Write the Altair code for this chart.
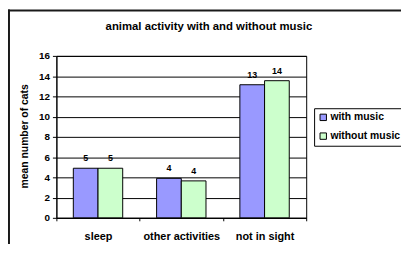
import altair as alt
import pandas as pd

categories = ["sleep", "other activities", "not in sight"]
series = ["with music", "without music"]
with_music = [4.9, 3.9, 13.15]
without_music = [4.9, 3.65, 13.55]
colors = ["#9999FF", "#CCFFCC"]

rows = []
for i, c in enumerate(categories):
    rows.append({"category": c, "series": series[0], "value": with_music[i]})
    rows.append({"category": c, "series": series[1], "value": without_music[i]})
df = pd.DataFrame(rows)

FONT = "Liberation Sans"

base = alt.Chart(df).encode(
    x=alt.X(
        "category:N",
        sort=categories,
        scale=alt.Scale(paddingInner=0, paddingOuter=0),
        axis=alt.Axis(
            title=None,
            labelAngle=0,
            labelFont=FONT,
            labelFontSize=11,
            labelFontWeight="bold",
            labelColor="black",
            labelPadding=10,
            tickBand="extent",
            tickSize=3,
            tickColor="black",
            domainColor="black",
            grid=False,
        ),
    ),
    xOffset=alt.XOffset(
        "series:N", sort=series, scale=alt.Scale(paddingInner=0, paddingOuter=0.686)
    ),
    y=alt.Y(
        "value:Q",
        scale=alt.Scale(domain=[0, 16], nice=False),
        axis=alt.Axis(
            title="mean number of cats",
            values=list(range(0, 17, 2)),
            titleFont=FONT,
            titleFontSize=10.5,
            titleFontWeight="bold",
            titleColor="black",
            titleX=-32,
            titleY=81,
            titleAngle=-90,
            titleAlign="center",
            titleBaseline="middle",
            labelFont=FONT,
            labelFontSize=10,
            labelFontWeight="bold",
            labelColor="black",
            labelPadding=3,
            tickSize=4,
            tickColor="black",
            domainColor="black",
            grid=True,
            gridColor="black",
            gridOpacity=1,
        ),
    ),
)

bars = base.mark_bar(stroke="black", strokeWidth=1).encode(
    color=alt.Color(
        "series:N",
        sort=series,
        scale=alt.Scale(domain=series, range=colors),
        legend=alt.Legend(
            title=None,
            orient="none",
            legendX=261,
            legendY=53,
            symbolType="square",
            symbolSize=42,
            symbolStrokeColor="black",
            symbolStrokeWidth=1,
            symbolOpacity=1,
            labelFont=FONT,
            labelFontSize=10.5,
            labelFontWeight="bold",
            labelColor="black",
            labelOffset=2,
            rowPadding=8,
            padding=4,
            strokeColor="black",
            fillColor="white",
        ),
    )
)

labels = base.mark_text(
    dy=-5, baseline="bottom", font=FONT, fontSize=9, fontWeight="bold", color="black"
).encode(text=alt.Text("value:Q", format=".0f"))

one = pd.DataFrame({"k": [0]})
border_left = alt.Chart(one).mark_rule(color="#1a1a1a", strokeWidth=2).encode(
    x=alt.value(-48), y=alt.value(-47), y2=alt.value(200)
)
border_top = alt.Chart(one).mark_rule(color="#1a1a1a", strokeWidth=2).encode(
    x=alt.value(-49), x2=alt.value(360), y=alt.value(-46)
)

chart = (
    alt.layer(bars, labels, border_left, border_top)
    .properties(
        width=253,
        height=164,
        autosize=alt.AutoSizeParams(type="none"),
        padding={"left": 49, "top": 47, "right": 96, "bottom": 25},
        title=alt.TitleParams(
            "animal activity with and without music",
            font=FONT,
            fontSize=11.5,
            fontWeight="bold",
            color="black",
            anchor="middle",
            dx=28,
            dy=26,
            offset=2,
        ),
        background="white",
    )
    .configure_view(stroke="black", strokeWidth=1)
)

chart.save("out.html", embed_options={"renderer": "svg", "actions": False})
